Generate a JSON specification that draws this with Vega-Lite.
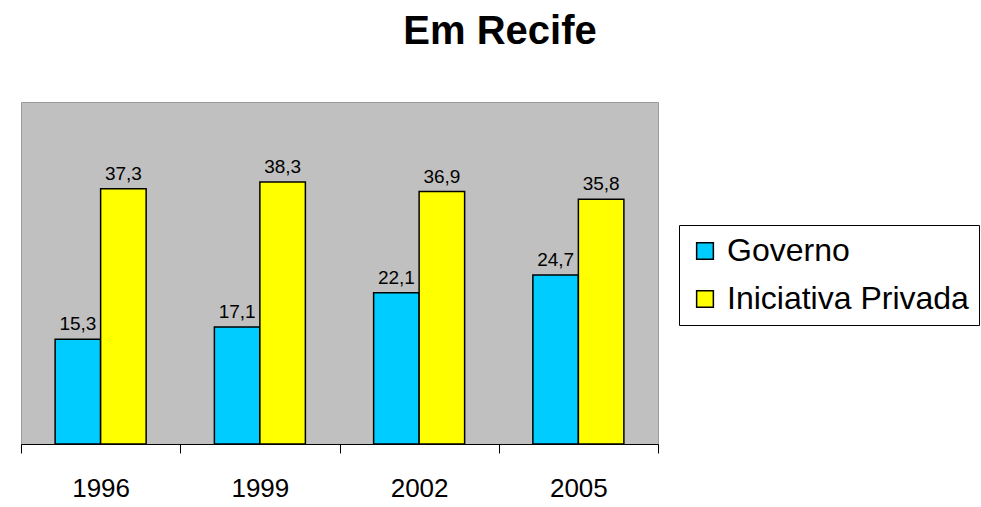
{
  "$schema": "https://vega.github.io/schema/vega-lite/v6.json",
  "width": 637,
  "height": 342,
  "autosize": {"type": "pad"},
  "padding": {"left": 20, "top": 12, "right": 0, "bottom": 0},
  "background": "white",
  "title": {
    "text": "Em Recife",
    "font": "Liberation Sans",
    "fontSize": 40,
    "fontWeight": "bold",
    "color": "black",
    "anchor": "middle",
    "frame": "bounds",
    "offset": 50
  },
  "data": {
    "values": [
      {"ano": "1996", "serie": "Governo", "valor": 15.3},
      {"ano": "1996", "serie": "Iniciativa Privada", "valor": 37.3},
      {"ano": "1999", "serie": "Governo", "valor": 17.1},
      {"ano": "1999", "serie": "Iniciativa Privada", "valor": 38.3},
      {"ano": "2002", "serie": "Governo", "valor": 22.1},
      {"ano": "2002", "serie": "Iniciativa Privada", "valor": 36.9},
      {"ano": "2005", "serie": "Governo", "valor": 24.7},
      {"ano": "2005", "serie": "Iniciativa Privada", "valor": 35.8}
    ]
  },
  "encoding": {
    "x": {
      "field": "ano",
      "type": "nominal",
      "scale": {"paddingInner": 0, "paddingOuter": 0},
      "axis": {
        "title": null,
        "labelAngle": 0,
        "labelFont": "Liberation Sans",
        "labelFontSize": 26,
        "labelColor": "black",
        "labelPadding": 22,
        "domainColor": "black",
        "domainWidth": 1,
        "tickColor": "black",
        "tickSize": 9,
        "tickBand": "extent"
      }
    },
    "xOffset": {
      "field": "serie",
      "type": "nominal",
      "sort": ["Governo", "Iniciativa Privada"],
      "scale": {"paddingInner": 0, "paddingOuter": 0.75}
    },
    "y": {
      "field": "valor",
      "type": "quantitative",
      "scale": {"domain": [0, 50], "nice": false, "zero": true},
      "axis": null
    }
  },
  "layer": [
    {
      "mark": {"type": "bar", "stroke": "black", "strokeWidth": 1.5},
      "encoding": {
        "color": {
          "field": "serie",
          "type": "nominal",
          "scale": {"domain": ["Governo", "Iniciativa Privada"], "range": ["#00CCFF", "#FFFF00"]},
          "legend": {
            "title": null,
            "orient": "none",
            "legendX": 658,
            "legendY": 123,
            "fillColor": "white",
            "strokeColor": "black",
            "padding": 10,
            "labelFont": "Liberation Sans",
            "labelFontSize": 32,
            "labelColor": "black",
            "labelLimit": 400,
            "labelOffset": 6,
            "symbolType": "square",
            "symbolSize": 280,
            "symbolStrokeColor": "black",
            "symbolStrokeWidth": 1.5,
            "rowPadding": 16
          }
        }
      }
    },
    {
      "mark": {"type": "text", "baseline": "bottom", "dy": -5, "font": "Liberation Sans", "fontSize": 19, "color": "black"},
      "encoding": {
        "text": {"field": "valor", "type": "quantitative", "format": ".1f"}
      }
    }
  ],
  "config": {
    "locale": {"number": {"decimal": ",", "thousands": ".", "grouping": [3], "currency": ["R$", ""]}},
    "view": {"fill": "#C0C0C0", "stroke": "#999999", "strokeWidth": 1}
  }
}
